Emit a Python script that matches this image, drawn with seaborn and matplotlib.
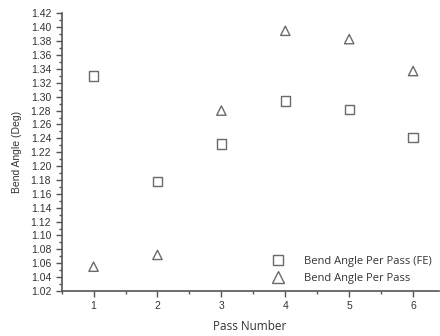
import matplotlib
matplotlib.use("Agg")
import numpy as np
import pandas as pd
import seaborn as sns
from matplotlib import pyplot as plt
from matplotlib.ticker import MultipleLocator

passes = [1, 2, 3, 4, 5, 6]
fe_angle = [1.330, 1.178, 1.232, 1.294, 1.282, 1.241]
exp_angle = [1.055, 1.072, 1.280, 1.395, 1.383, 1.337]
series_names = ["Bend Angle Per Pass (FE)", "Bend Angle Per Pass"]

df = pd.DataFrame({
    "Pass": passes * 2,
    "Angle": fe_angle + exp_angle,
    "Series": [series_names[0]] * len(passes) + [series_names[1]] * len(passes),
})

sns.set_style("ticks")
plt.rcParams["font.family"] = ["Liberation Sans", "DejaVu Sans"]

fig = plt.figure(figsize=(4.4, 3.36), dpi=100)
ax = fig.add_axes([0.140, 0.134, 0.857, 0.826])

grey = "#6a6a6a"
sns.scatterplot(data=df, x="Pass", y="Angle", hue="Series", style="Series",
                markers={series_names[0]: "s", series_names[1]: "^"},
                palette={series_names[0]: grey, series_names[1]: grey},
                s=45, ax=ax, legend=False)
for coll in ax.collections:
    coll.set_facecolor("none")
    coll.set_edgecolor(grey)
    coll.set_linewidth(1.0)

ax.set_xlim(0.5, 6.4)
ax.set_ylim(1.02, 1.42)
ax.set_xticks(passes)
ax.xaxis.set_minor_locator(MultipleLocator(0.5))
ax.yaxis.set_major_locator(MultipleLocator(0.02))
ax.yaxis.set_minor_locator(MultipleLocator(0.01))
ax.yaxis.set_major_formatter(matplotlib.ticker.FormatStrFormatter("%.2f"))

for side in ["top", "right"]:
    ax.spines[side].set_visible(False)
for side in ["left", "bottom"]:
    ax.spines[side].set_color("#555555")
    ax.spines[side].set_linewidth(1.2)

ax.tick_params(which="major", length=4, width=1, color="#555555", labelsize=7.5,
               labelcolor="#333333", direction="out")
ax.tick_params(which="minor", length=2, width=1, color="#555555", direction="out")

ax.set_ylabel("Bend Angle (Deg)", fontsize=7.5, color="#333333", labelpad=6)
ax.set_xlabel("Pass Number", fontsize=8.5, color="#333333", family=["Open Sans", "DejaVu Sans"],
              labelpad=6)

handles = [
    plt.Line2D([], [], marker="s", linestyle="none", markerfacecolor="none",
               markeredgecolor=grey, markersize=7),
    plt.Line2D([], [], marker="^", linestyle="none", markerfacecolor="none",
               markeredgecolor=grey, markersize=8),
]
ax.legend(handles, series_names, loc="lower right", frameon=False,
          prop={"family": ["Open Sans", "DejaVu Sans"], "size": 8},
          handletextpad=1.4, labelspacing=0.55, borderaxespad=0.2,
          bbox_to_anchor=(1.0, 0.0), labelcolor="#333333")

fig.savefig("out.png", dpi=100)
